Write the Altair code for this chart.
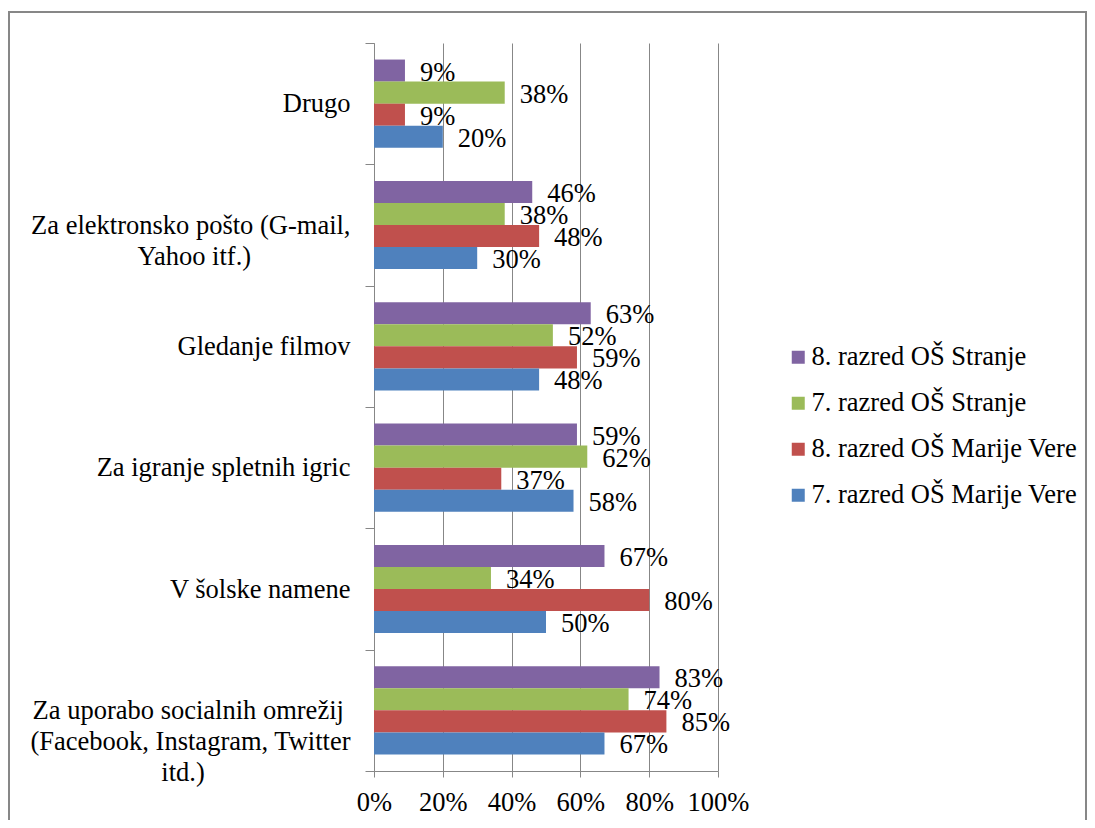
import json
import altair as alt
import pandas as pd

categories = [
    "Drugo",
    "Za elektronsko pošto (G-mail, Yahoo itf.)",
    "Gledanje filmov",
    "Za igranje spletnih igric",
    "V šolske namene",
    "Za uporabo socialnih omrežij (Facebook, Instagram, Twitter itd.)",
]
series = [
    "8. razred OŠ Stranje",
    "7. razred OŠ Stranje",
    "8. razred OŠ Marije Vere",
    "7. razred OŠ Marije Vere",
]
colors = ["#8064A2", "#9BBB59", "#C0504D", "#4F81BD"]

s8_stranje = [9, 46, 63, 59, 67, 83]
s7_stranje = [38, 38, 52, 62, 34, 74]
s8_mv = [9, 48, 59, 37, 80, 85]
s7_mv = [20, 30, 48, 58, 50, 67]

x_ticks = [0, 20, 40, 60, 80, 100]

# wrapped category labels; lines are centred within the block (padding with
# no-break spaces, closed by a zero-width space so the padding is kept)
NB = "\u00a0"
ZW = "\u200b"
label_lines = {
    categories[1]: ["Za elektronsko pošto (G-mail,", "Yahoo itf.)" + NB * 15 + ZW],
    categories[5]: ["Za uporabo socialnih omrežij" + NB + ZW, "(Facebook, Instagram, Twitter", "itd.)" + NB * 22 + ZW],
}

rows = []
for s, vals in zip(series, [s8_stranje, s7_stranje, s8_mv, s7_mv]):
    for c, v in zip(categories, vals):
        rows.append({"category": c, "series": s, "value": v, "label": f"{v}%"})
df = pd.DataFrame(rows)

expr = "datum.label"
for k, lines in label_lines.items():
    expr = f"datum.label == {json.dumps(k, ensure_ascii=False)} ? {json.dumps(lines, ensure_ascii=False)} : ({expr})"

FONT = "Times New Roman"
FS = 26.5
GRAY = "#878787"

y_enc = alt.Y(
    "category:N",
    sort=categories,
    scale=alt.Scale(paddingInner=0, paddingOuter=0),
    axis=alt.Axis(
        title=None,
        labelExpr=expr,
        labelFont=FONT,
        labelFontSize=FS,
        labelColor="black",
        labelLimit=500,
        labelLineHeight=31,
        labelPadding=15,
        labelOverlap=False,
        tickBand="extent",
        tickSize=9,
        tickColor=GRAY,
        domainColor=GRAY,
        grid=False,
    ),
)
yoff_enc = alt.YOffset(
    "series:N",
    sort=series,
    scale=alt.Scale(paddingInner=0, paddingOuter=0.75),
)
x_enc = alt.X(
    "value:Q",
    scale=alt.Scale(domain=[0, 100], nice=False),
    axis=alt.Axis(
        title=None,
        values=x_ticks,
        labelExpr="datum.value + '%'",
        labelFont=FONT,
        labelFontSize=FS,
        labelColor="black",
        labelPadding=12,
        labelOverlap=False,
        labelFlush=False,
        tickSize=6,
        tickColor=GRAY,
        domainColor=GRAY,
        grid=True,
        gridColor=GRAY,
        gridWidth=1,
    ),
)

bars = alt.Chart(df).mark_bar().encode(
    y=y_enc,
    yOffset=yoff_enc,
    x=x_enc,
    color=alt.Color(
        "series:N",
        sort=series,
        scale=alt.Scale(domain=series, range=colors),
        legend=alt.Legend(
            title=None,
            orient="none",
            legendX=411,
            legendY=301,
            labelFont=FONT,
            labelFontSize=FS,
            labelColor="black",
            symbolType="square",
            symbolSize=169,
            symbolStrokeWidth=0,
            labelOffset=0,
            rowPadding=19,
            padding=0,
            labelLimit=500,
        ),
    ),
)

texts = alt.Chart(df).mark_text(
    align="left", baseline="middle", dx=15, dy=2, font=FONT, fontSize=FS, color="black"
).encode(
    y=alt.Y("category:N", sort=categories),
    yOffset=alt.YOffset("series:N", sort=series),
    x=alt.X("value:Q"),
    text="label:N",
)

frame = alt.Chart(pd.DataFrame({"f": [0]})).mark_rect(
    filled=False, stroke=GRAY, strokeWidth=2
).encode(
    x=alt.value(-365), x2=alt.value(712), y=alt.value(-31), y2=alt.value(800)
)

chart = alt.layer(frame, bars, texts).properties(
    width=344,
    height=728,
    autosize=alt.AutoSizeParams(type="none"),
    padding={"left": 366, "top": 35, "right": 369, "bottom": 49},
).configure_view(stroke=None)

chart.save("out.html", embed_options={"renderer": "svg", "actions": False})
